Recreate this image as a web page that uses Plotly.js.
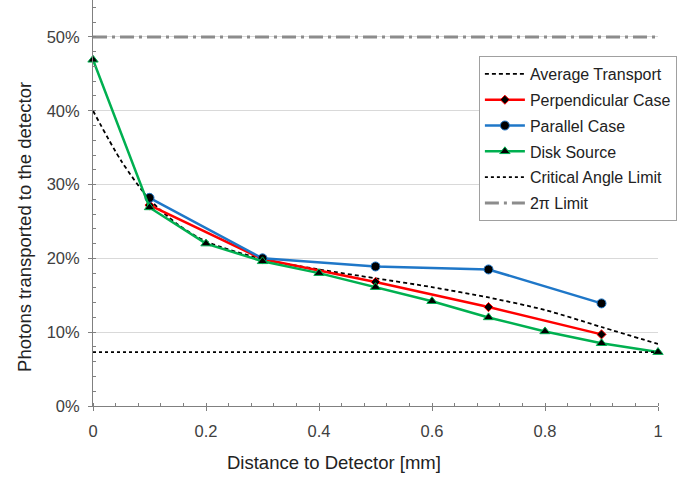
<!DOCTYPE html>
<html><head><meta charset="utf-8">
<script src="https://cdn.plot.ly/plotly-3.0.1.min.js"></script>
<style>body{margin:0;background:#fff}#c{width:699px;height:479px}</style>
</head><body><div id="c"></div>
<script>
const avgX = [0, 0.05, 0.1, 0.15, 0.2, 0.3, 0.4, 0.5, 0.6, 0.7, 0.8, 0.9, 1.0];
const avgY = [0.400, 0.332, 0.280, 0.246, 0.223, 0.199, 0.185, 0.173, 0.161, 0.147, 0.130, 0.107, 0.084];
const perpX = [0.1, 0.3, 0.5, 0.7, 0.9];
const perpY = [0.272, 0.199, 0.168, 0.134, 0.097];
const parX = [0.1, 0.3, 0.5, 0.7, 0.9];
const parY = [0.282, 0.200, 0.189, 0.185, 0.139];
const diskX = [0, 0.1, 0.2, 0.3, 0.4, 0.5, 0.6, 0.7, 0.8, 0.9, 1.0];
const diskY = [0.469, 0.269, 0.220, 0.196, 0.180, 0.161, 0.142, 0.120, 0.101, 0.085, 0.073];
const critX = [0, 1];
const critY = [0.073, 0.073];
const piX = [0, 1];
const piY = [0.50, 0.50];
const xTitle = 'Distance to Detector [mm]';
const yTitle = 'Photons transported to the detector';

const traces = [
 {x: avgX, y: avgY, name: 'Average Transport', legendgroup: 'a', mode: 'lines', line: {color: '#000', width: 1.8, dash: '4px,3px', shape: 'spline', smoothing: 0.8}},
 {x: perpX, y: perpY, name: 'Perpendicular Case', legendgroup: 'b', mode: 'lines+markers', line: {color: '#ff0000', width: 2.5}, marker: {symbol: 'diamond', size: 7, color: '#000', line: {color: '#ff0000', width: 1}}, cliponaxis: false},
 {x: parX, y: parY, name: 'Parallel Case', legendgroup: 'c', mode: 'lines+markers', line: {color: '#1f77c8', width: 2.5}, marker: {symbol: 'circle', size: 9, color: '#000', line: {color: '#1f77c8', width: 1}}, cliponaxis: false},
 {x: diskX, y: diskY, name: 'Disk Source', legendgroup: 'd', mode: 'lines+markers', line: {color: '#00b050', width: 2.5}, marker: {symbol: 'triangle-up', size: 9, color: '#000', line: {color: '#00b050', width: 1}}, cliponaxis: false},
 {x: critX, y: critY, name: 'Critical Angle Limit', legendgroup: 'e', mode: 'lines', line: {color: '#000', width: 1.8, dash: 'dot'}},
 {x: piX, y: piY, name: '2π Limit', legendgroup: 'f', mode: 'lines', line: {color: '#8c8c8c', width: 3, dash: '14px,5px,3px,5px'}}
];

const axCommon = {showline: true, linecolor: '#808080', linewidth: 1, zeroline: false, tickcolor: '#808080'};

const layout = {
 width: 699, height: 479,
 margin: {l: 93, r: 41, t: 0, b: 73},
 paper_bgcolor: '#fff', plot_bgcolor: '#fff',
 font: {family: 'Liberation Sans, Arial, sans-serif', size: 16.5, color: '#404040'},
 showlegend: true,
 legend: {x: 0.683, y: 0.862, xanchor: 'left', yanchor: 'top', bgcolor: '#fff', bordercolor: '#a0a0a0', borderwidth: 1, font: {size: 16, color: '#222'}, traceorder: 'grouped', tracegroupgap: 2, itemwidth: 40},
 xaxis: Object.assign({}, axCommon, {
  range: [0, 1], dtick: 0.2, showgrid: false,
  ticks: 'outside', ticklen: 4, ticklabelstandoff: 6,
  minor: {dtick: 0.04, ticks: 'inside', ticklen: 3, tickcolor: '#808080', showgrid: false},
  tickfont: {size: 16.5, color: '#404040'}
 }),
 yaxis: Object.assign({}, axCommon, {
  range: [0, 0.55], dtick: 0.1, tickformat: '.0%', showgrid: true, gridcolor: '#d9d9d9',
  ticks: 'outside', ticklen: 4, ticklabelstandoff: 5,
  minor: {dtick: 0.02, ticks: 'inside', ticklen: 3, tickcolor: '#808080', showgrid: false},
  tickfont: {size: 16.5, color: '#404040'}
 }),
 xaxis2: {overlaying: 'x', range: [0, 1], dtick: 0.2, ticks: 'inside', ticklen: 4, tickcolor: '#808080', showticklabels: false, showgrid: false, zeroline: false, showline: false, anchor: 'y'},
 yaxis2: {overlaying: 'y', range: [0, 0.55], dtick: 0.1, ticks: 'inside', ticklen: 4, tickcolor: '#808080', showticklabels: false, showgrid: false, zeroline: false, showline: false, anchor: 'x', side: 'left'},
 annotations: [
  {text: xTitle, xref: 'paper', yref: 'paper', x: 0.4265, y: -0.140, xanchor: 'center', yanchor: 'middle', showarrow: false, font: {size: 18.5, color: '#222'}},
  {text: yTitle, xref: 'paper', yref: 'paper', x: -0.1204, y: 0.441, xanchor: 'center', yanchor: 'middle', textangle: -90, showarrow: false, font: {size: 18.5, color: '#222'}}
 ]
};
Plotly.newPlot('c', traces, layout, {displayModeBar: false, staticPlot: true});
</script></body></html>
